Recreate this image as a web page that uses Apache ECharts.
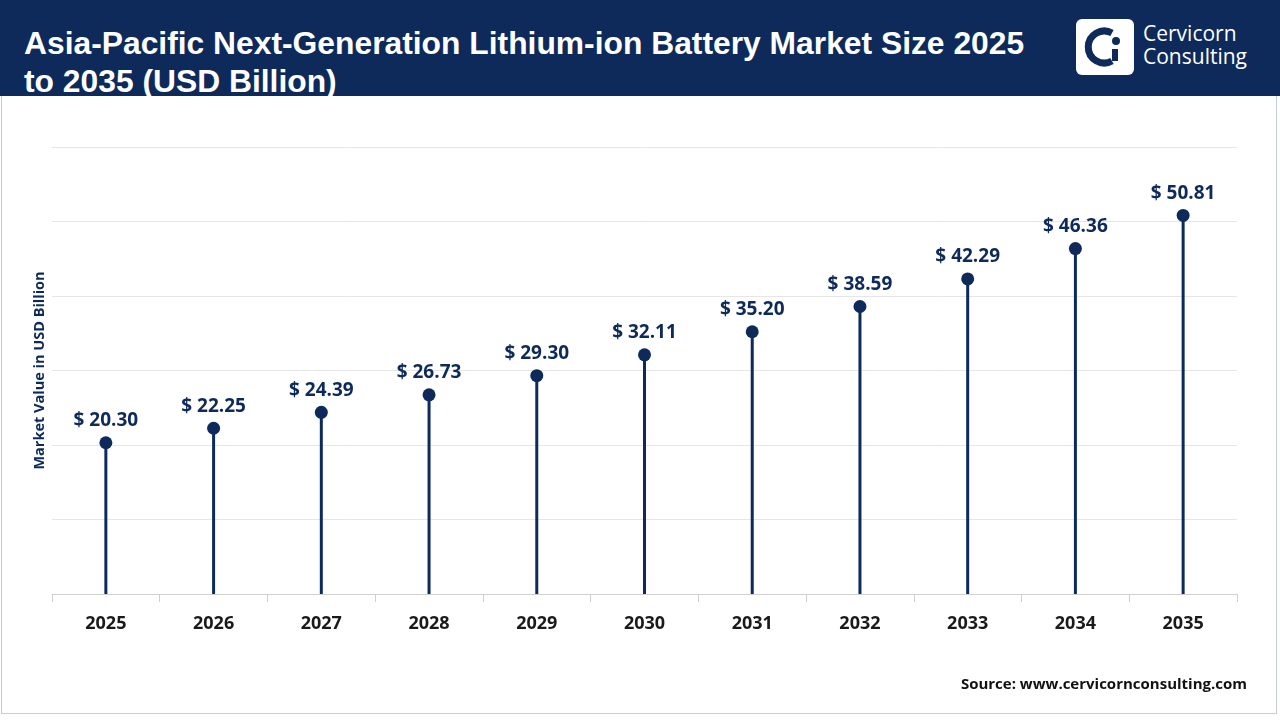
<!DOCTYPE html>
<html><head><meta charset="utf-8">
<script src="https://cdn.jsdelivr.net/npm/echarts@6/dist/echarts.min.js"></script>
<style>
html,body{margin:0;padding:0;background:#fff;}
#wrap{position:relative;width:1280px;height:720px;overflow:hidden;font-family:"Open Sans","Noto Sans",sans-serif;}
#hdr{position:absolute;left:0;top:0;width:1280px;height:96px;background:#0e2a5a;}
#title{position:absolute;left:24px;top:24px;color:#fff;font-weight:bold;font-size:31.8px;line-height:38px;font-family:"Liberation Sans",Arial,sans-serif;}
#logo{position:absolute;left:1076px;top:19px;width:58px;height:56px;background:#fff;border-radius:6px;}
#logotxt{position:absolute;left:1143px;top:22px;color:#fff;font-size:21px;line-height:23px;}
#frame{position:absolute;left:1px;top:96px;width:1274px;height:617px;border:1px solid #c8ccd4;border-top:none;}
#chart{position:absolute;left:0;top:96px;width:1280px;height:624px;}
</style></head>
<body><div id="wrap">
<div id="hdr"></div>
<div id="title">Asia-Pacific Next-Generation Lithium-ion Battery Market Size 2025<br>to 2035 (USD Billion)</div>
<div id="logo"><svg width="58" height="56" viewBox="0 0 58 56"><path d="M36 14 A16 16 0 1 0 36 42" fill="none" stroke="#0e2a5a" stroke-width="7"/><circle cx="40" cy="22" r="4" fill="#0e2a5a"/><rect x="36" y="30" width="6" height="12" fill="#0e2a5a"/></svg></div>
<div id="logotxt">Cervicorn<br>Consulting</div>
<div id="frame"></div>
<div id="chart"></div>
</div>
<script>
const years=['2025','2026','2027','2028','2029','2030','2031','2032','2033','2034','2035'];
const values=[20.30,22.25,24.39,26.73,29.30,32.11,35.20,38.59,42.29,46.36,50.81];
const navy='#0e2a5a';
const c=echarts.init(document.getElementById('chart'));
c.setOption({
 grid:{left:52,right:43,top:51,bottom:126},
 xAxis:{type:'category',data:years,
  axisLine:{lineStyle:{color:'#d0d0d0'}},axisTick:{show:true,length:8,lineStyle:{color:'#d0d0d0'}},
  axisLabel:{color:'#1a1a1a',fontWeight:'bold',fontSize:18,margin:21,fontFamily:'Open Sans'}},
 yAxis:{type:'value',min:0,max:60,interval:10,name:'Market Value in USD Billion',nameLocation:'middle',nameGap:5,
  nameTextStyle:{color:navy,fontWeight:'bold',fontSize:14.5,fontFamily:'Open Sans'},
  axisLabel:{show:false},axisLine:{show:false},axisTick:{show:false},splitLine:{lineStyle:{color:'#e6e6e6'}}},
 series:[
  {type:'bar',data:values,barWidth:3,itemStyle:{color:navy},silent:true},
  {type:'scatter',data:values,symbolSize:13,itemStyle:{color:navy,opacity:1},
   label:{show:true,position:'top',distance:6,formatter:p=>'$ '+p.value.toFixed(2),color:navy,fontWeight:'bold',fontSize:19,fontFamily:'Open Sans'}}
 ],
 graphic:[{type:'text',right:33,bottom:28,style:{text:'Source: www.cervicornconsulting.com',fill:'#111',font:'bold 15px "Open Sans"'}}]
});
</script></body></html>
